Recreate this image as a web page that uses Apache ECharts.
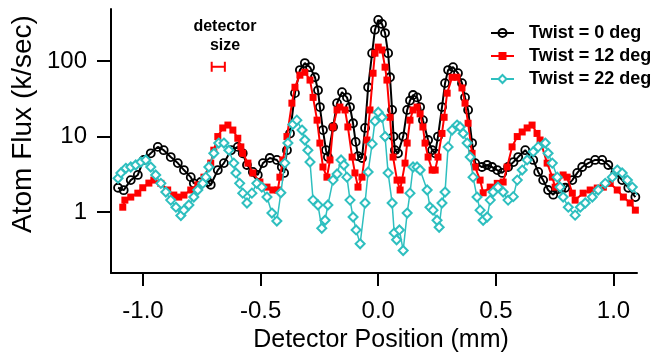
<!DOCTYPE html>
<html>
<head>
<meta charset="utf-8">
<script src="https://cdn.jsdelivr.net/npm/echarts@6/dist/echarts.min.js"></script>
<style>
  html, body { margin: 0; padding: 0; background: #fff; }
  #chart { width: 652px; height: 356px; }
</style>
</head>
<body>
<div id="chart"></div>
<script>
const xTicks = [-1.0, -0.5, 0.0, 0.5, 1.0];
const yTicks = [1, 10, 100];
const seriesNames = ['Twist = 0 deg', 'Twist = 12 deg', 'Twist = 22 deg'];

// [position (mm), flux (k/sec)]
const twist0 = [
  [-1.106,2.1],[-1.082,1.95],[-1.052,2.65],[-1.022,3.1],[-0.997,4.9],[-0.967,6.0],[-0.937,7.3],[-0.912,6.6],
  [-0.882,5.35],[-0.852,4.45],[-0.826,3.6],[-0.797,2.9],[-0.784,2.4],[-0.754,2.5],[-0.724,2.5],[-0.712,2.3],
  [-0.682,3.6],[-0.656,4.45],[-0.626,6.6],[-0.597,7.3],[-0.576,6.0],[-0.558,4.2],[-0.533,3.4],[-0.512,3.1],
  [-0.490,4.45],[-0.461,5.2],[-0.431,4.9],[-0.410,3.95],[-0.400,3.3],[-0.388,6.6],[-0.375,11],[-0.354,37.6],
  [-0.333,76],[-0.312,94],[-0.290,83],[-0.269,61],[-0.256,41],[-0.248,24.6],[-0.235,12.2],[-0.222,6.6],
  [-0.214,5.35],[-0.192,13.4],[-0.175,27.7],[-0.154,38.7],[-0.133,33],[-0.120,24.6],[-0.107,15],[-0.096,8.5],
  [-0.086,5.5],[-0.069,5.2],[-0.056,13],[-0.043,45],[-0.026,127],[-0.014,260],[0.000,350],[0.016,310],
  [0.029,235],[0.042,127],[0.050,61],[0.059,22.5],[0.065,10],[0.071,6.6],[0.084,6],[0.106,10],
  [0.123,22.5],[0.135,30],[0.148,35.5],[0.165,33],[0.178,24.6],[0.190,16.5],[0.212,9],[0.229,6.6],
  [0.242,6],[0.254,10],[0.271,24.6],[0.284,51],[0.297,76],[0.318,83],[0.339,69],[0.356,51],
  [0.369,33],[0.382,22.5],[0.399,8.2],[0.412,4.45],[0.441,3.95],[0.463,4.2],[0.484,3.95],[0.506,3.6],
  [0.527,3.3],[0.552,3.95],[0.575,4.6],[0.595,5.35],[0.625,6.6],[0.659,4.9],[0.680,3.4],[0.701,2.65],
  [0.722,1.96],[0.744,1.7],[0.761,2.0],[0.778,2.05],[0.795,2.1],[0.825,2.65],[0.846,3.3],[0.867,3.95],
  [0.893,4.45],[0.922,4.9],[0.952,4.9],[0.978,4.2],[1.008,3.3],[1.037,2.65],[1.063,2.1],[1.093,1.58]
];
const twist12 = [
  [-1.086,1.16],[-1.077,1.44],[-1.052,1.58],[-1.022,1.78],[-1.001,2.1],[-0.975,2.42],[-0.954,2.65],[-0.924,2.4],
  [-0.895,1.96],[-0.869,1.68],[-0.848,1.58],[-0.826,1.68],[-0.797,1.96],[-0.767,2.3],[-0.741,2.9],[-0.712,4.45],
  [-0.699,6.6],[-0.682,10],[-0.661,13],[-0.639,14.2],[-0.618,12.2],[-0.597,9.5],[-0.584,7.3],[-0.576,6],
  [-0.554,4.45],[-0.533,3.3],[-0.503,2.5],[-0.473,2.14],[-0.448,1.96],[-0.427,1.96],[-0.418,2.9],[-0.405,4.9],
  [-0.388,10],[-0.367,27.7],[-0.354,45],[-0.333,65],[-0.312,71],[-0.290,56],[-0.277,33],[-0.260,16.5],
  [-0.248,8.2],[-0.235,3.95],[-0.218,2.9],[-0.205,4.9],[-0.192,13.4],[-0.175,22.5],[-0.163,24.6],[-0.141,22.5],
  [-0.129,13.4],[-0.111,5.35],[-0.099,3.3],[-0.086,2.14],[-0.069,2.9],[-0.048,9],[-0.035,22.5],[-0.022,69],
  [-0.014,127],[0.000,153],[0.016,140],[0.029,83],[0.037,56],[0.050,18],[0.063,5.35],[0.080,2.65],
  [0.093,1.96],[0.101,2.65],[0.114,4.45],[0.123,8.2],[0.135,16.5],[0.148,22.5],[0.165,24.6],[0.178,20],
  [0.190,13.4],[0.199,8.2],[0.212,5.35],[0.229,3.6],[0.242,3.6],[0.254,5.35],[0.271,11],[0.280,18],
  [0.293,37.6],[0.314,61],[0.335,61],[0.356,44],[0.369,27.7],[0.382,15],[0.399,6],[0.412,3.95],
  [0.433,2.65],[0.446,1.8],[0.476,2.14],[0.506,2.4],[0.531,2.5],[0.548,3.95],[0.569,7.3],[0.591,10],
  [0.612,11.5],[0.633,13],[0.654,14.2],[0.675,11],[0.688,9],[0.718,4.45],[0.740,2.9],[0.752,2.14],
  [0.786,3.1],[0.803,2.9],[0.825,1.78],[0.837,1.44],[0.871,1.78],[0.901,1.96],[0.931,2.08],[0.957,2.14],
  [0.986,2.4],[1.016,1.96],[1.042,1.58],[1.071,1.32],[1.093,1.06]
];
const twist22 = [
  [-1.106,2.8],[-1.094,3.3],[-1.073,3.8],[-1.052,3.95],[-1.031,4.2],[-1.009,4.6],[-0.988,4.9],[-0.967,3.95],
  [-0.946,3.1],[-0.924,2.4],[-0.903,1.84],[-0.882,1.44],[-0.860,1.16],[-0.839,0.9],[-0.826,1.06],[-0.805,1.24],
  [-0.784,1.58],[-0.767,1.96],[-0.746,2.4],[-0.733,2.9],[-0.720,3.95],[-0.699,6],[-0.678,8.2],[-0.656,8.2],
  [-0.635,6.6],[-0.614,4.45],[-0.605,3.3],[-0.589,2.4],[-0.576,1.78],[-0.558,1.32],[-0.537,1.78],[-0.516,2.4],
  [-0.495,2.14],[-0.473,1.58],[-0.452,0.97],[-0.431,0.76],[-0.414,1.8],[-0.397,4.45],[-0.384,8.2],[-0.363,14.5],
  [-0.346,16.5],[-0.324,12.2],[-0.312,9],[-0.299,6.6],[-0.290,4.6],[-0.277,1.44],[-0.256,1.24],[-0.240,0.61],
  [-0.226,0.78],[-0.214,1.24],[-0.192,2.65],[-0.175,3.2],[-0.158,4.9],[-0.146,4.2],[-0.133,2.9],[-0.120,1.44],
  [-0.107,0.86],[-0.094,0.58],[-0.077,0.38],[-0.056,1.32],[-0.043,3.4],[-0.026,8],[-0.014,16],[0.000,21],
  [0.016,18],[0.029,10],[0.042,3.3],[0.059,1.32],[0.068,0.53],[0.078,0.43],[0.090,0.58],[0.106,0.31],
  [0.123,0.97],[0.135,1.78],[0.148,3.95],[0.165,3.95],[0.178,3.6],[0.208,1.96],[0.220,1.16],[0.233,1.06],
  [0.250,0.78],[0.259,0.63],[0.271,1.32],[0.284,1.84],[0.297,7.3],[0.314,12.2],[0.335,14.2],[0.348,13.4],
  [0.361,11],[0.378,8.2],[0.391,5.35],[0.403,2.9],[0.420,1.58],[0.433,1.06],[0.446,0.78],[0.463,0.86],
  [0.476,1.44],[0.488,1.84],[0.509,2.14],[0.531,1.84],[0.552,1.44],[0.574,1.6],[0.591,2.65],[0.612,3.6],
  [0.633,4.9],[0.659,6.3],[0.680,7.3],[0.710,8.2],[0.722,6],[0.740,4.45],[0.761,2.9],[0.773,2.14],
  [0.786,1.58],[0.808,1.16],[0.837,0.91],[0.859,1.16],[0.880,1.32],[0.910,1.58],[0.935,1.96],[0.965,2.4],
  [0.995,2.9],[1.016,3.6],[1.037,3.3],[1.059,2.65],[1.080,2.14],[1.101,1.68]
];
// detector size bar: [centre (mm), flux level, width (mm)]
const detectorBar = [[-0.68, 84, 0.056]];

const FONT = 'Liberation Sans, Arial, sans-serif';
const chart = echarts.init(document.getElementById('chart'));

chart.setOption({
  animation: false,
  backgroundColor: '#fff',
  grid: { left: 111, right: 15, top: 9, bottom: 83, outerBoundsMode: 'none' },
  legend: {
    data: seriesNames,
    orient: 'vertical',
    left: 485,
    top: 19,
    itemWidth: 23,
    itemHeight: 10,
    itemGap: 5,
    textStyle: { fontFamily: FONT, fontSize: 18, fontWeight: 'bold', color: '#000', padding: [0, 0, 0, 10] }
  },
  xAxis: {
    type: 'value',
    min: -1.136,
    max: 1.1,
    axisLine: { onZero: false, lineStyle: { color: '#000', width: 2 } },
    axisTick: { customValues: xTicks, length: 13, lineStyle: { color: '#000', width: 2 } },
    axisLabel: {
      customValues: xTicks,
      margin: 26,
      color: '#000',
      fontFamily: FONT,
      fontSize: 24,
      formatter: v => v.toFixed(1)
    },
    splitLine: { show: false }
  },
  yAxis: {
    type: 'log',
    min: 0.156,
    max: 489,
    axisLine: { show: true, onZero: false, lineStyle: { color: '#000', width: 2 } },
    axisTick: { customValues: yTicks, length: 14, lineStyle: { color: '#000', width: 2 } },
    axisLabel: {
      customValues: yTicks,
      margin: 24,
      color: '#000',
      fontFamily: FONT,
      fontSize: 24
    },
    minorTick: { show: false },
    splitLine: { show: false }
  },
  graphic: [
    {
      type: 'text', x: 23, y: 124, rotation: Math.PI / 2,
      style: { text: 'Atom Flux (k/sec)', fontFamily: FONT, fontSize: 28, fill: '#000', align: 'center', verticalAlign: 'middle' }
    },
    {
      type: 'text', x: 381, y: 340,
      style: { text: 'Detector Position (mm)', fontFamily: FONT, fontSize: 25, fill: '#000', align: 'center', verticalAlign: 'middle' }
    },
    {
      type: 'text', x: 225, y: 27,
      style: { text: 'detector', fontFamily: FONT, fontSize: 16, fontWeight: 'bold', fill: '#000', align: 'center', verticalAlign: 'middle' }
    },
    {
      type: 'text', x: 225, y: 46,
      style: { text: 'size', fontFamily: FONT, fontSize: 16, fontWeight: 'bold', fill: '#000', align: 'center', verticalAlign: 'middle' }
    }
  ],
  series: [
    {
      name: seriesNames[0],
      type: 'line',
      data: twist0,
      symbol: 'circle',
      symbolSize: 8,
      lineStyle: { color: '#000', width: 2 },
      itemStyle: { color: 'rgba(255,255,255,0)', borderColor: '#000', borderWidth: 1.8 },
      z: 2
    },
    {
      name: seriesNames[1],
      type: 'line',
      data: twist12,
      symbol: 'rect',
      symbolSize: 7,
      lineStyle: { color: '#ff0000', width: 2 },
      itemStyle: { color: '#ff0000' },
      z: 3
    },
    {
      name: seriesNames[2],
      type: 'line',
      data: twist22,
      symbol: 'emptyDiamond',
      symbolSize: 9,
      lineStyle: { color: '#2ebfbf', width: 1.5 },
      itemStyle: { color: '#2ebfbf', borderWidth: 1.5 },
      z: 4
    },
    {
      type: 'custom',
      data: detectorBar,
      silent: true,
      z: 5,
      renderItem(params, api) {
        const c = api.value(0), y = api.value(1), w = api.value(2);
        const p0 = api.coord([c - w / 2, y]);
        const p1 = api.coord([c + w / 2, y]);
        const h = 5;
        const style = { stroke: '#ff0000', lineWidth: 2 };
        return {
          type: 'group',
          children: [
            { type: 'line', shape: { x1: p0[0], y1: p0[1], x2: p1[0], y2: p1[1] }, style },
            { type: 'line', shape: { x1: p0[0], y1: p0[1] - h, x2: p0[0], y2: p0[1] + h }, style },
            { type: 'line', shape: { x1: p1[0], y1: p1[1] - h, x2: p1[0], y2: p1[1] + h }, style }
          ]
        };
      }
    }
  ]
});
</script>
</body>
</html>
